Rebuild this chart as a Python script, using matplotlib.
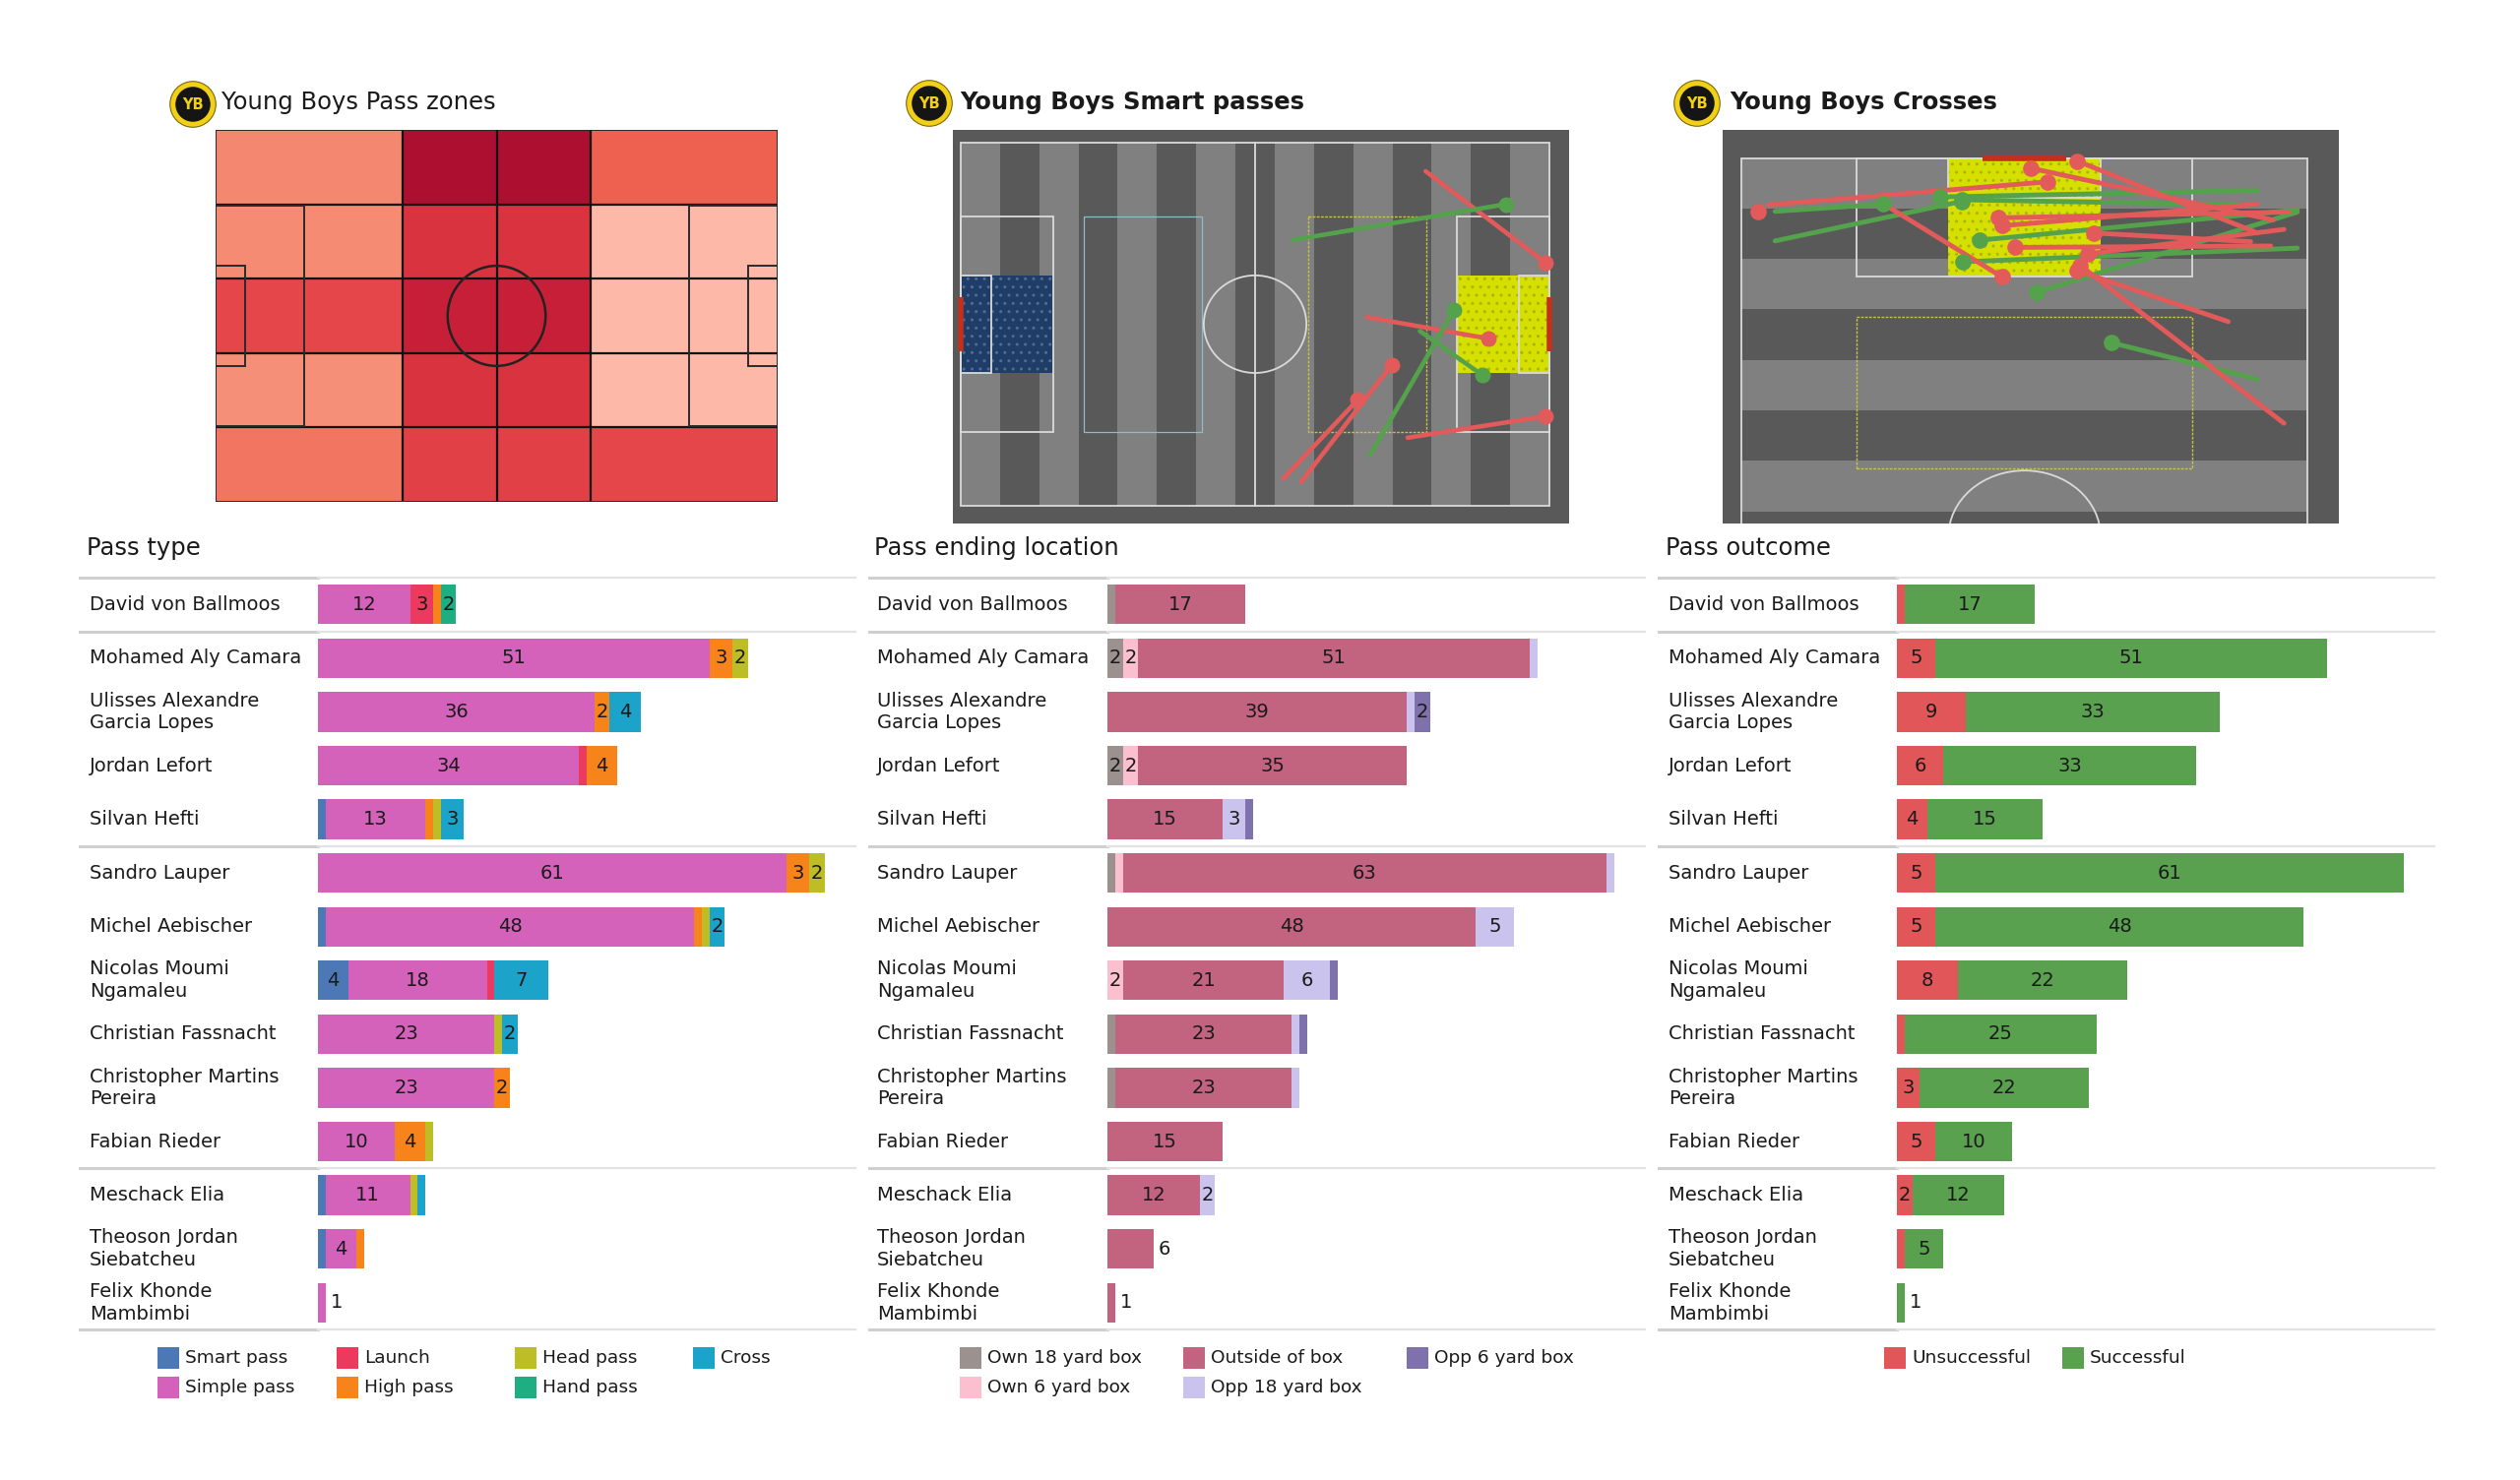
import numpy as np
import matplotlib.pyplot as plt
from matplotlib.patches import Rectangle, Circle
from matplotlib.colors import LinearSegmentedColormap

W, H = 2560, 1504

# ---------------- data ----------------
players = ['David von Ballmoos', 'Mohamed Aly Camara', 'Ulisses Alexandre\nGarcia Lopes',
           'Jordan Lefort', 'Silvan Hefti', 'Sandro Lauper', 'Michel Aebischer',
           'Nicolas Moumi\nNgamaleu', 'Christian Fassnacht', 'Christopher Martins\nPereira',
           'Fabian Rieder', 'Meschack Elia', 'Theoson Jordan\nSiebatcheu', 'Felix Khonde\nMambimbi']

type_labels = ['Smart pass', 'Simple pass', 'Launch', 'High pass', 'Head pass', 'Hand pass', 'Cross']
type_colors = ['#4c78b6', '#d462bb', '#ec3a5e', '#f7841a', '#bdbd26', '#1fae82', '#1ba3c9']
smart = [0, 0, 0, 0, 1, 0, 1, 4, 0, 0, 0, 1, 1, 0]
simple = [12, 51, 36, 34, 13, 61, 48, 18, 23, 23, 10, 11, 4, 1]
launch = [3, 0, 0, 1, 0, 0, 0, 1, 0, 0, 0, 0, 0, 0]
high = [1, 3, 2, 4, 1, 3, 1, 0, 0, 2, 4, 0, 1, 0]
head = [0, 2, 0, 0, 1, 2, 1, 0, 1, 0, 1, 1, 0, 0]
hand = [2, 0, 0, 0, 0, 0, 0, 0, 0, 0, 0, 0, 0, 0]
cross = [0, 0, 4, 0, 3, 0, 2, 7, 2, 0, 0, 1, 0, 0]

end_labels = ['Own 18 yard box', 'Own 6 yard box', 'Outside of box', 'Opp 18 yard box', 'Opp 6 yard box']
end_colors = ['#9b918e', '#fbbfd0', '#c2637f', '#c9c3ee', '#7f72ac']
own18 = [1, 2, 0, 2, 0, 1, 0, 0, 1, 1, 0, 0, 0, 0]
own6 = [0, 2, 0, 2, 0, 1, 0, 2, 0, 0, 0, 0, 0, 0]
outside = [17, 51, 39, 35, 15, 63, 48, 21, 23, 23, 15, 12, 6, 1]
opp18 = [0, 1, 1, 0, 3, 1, 5, 6, 1, 1, 0, 2, 0, 0]
opp6 = [0, 0, 2, 0, 1, 0, 0, 1, 1, 0, 0, 0, 0, 0]

out_labels = ['Unsuccessful', 'Successful']
out_colors = ['#e15759', '#59a14f']
unsucc = [1, 5, 9, 6, 4, 5, 5, 8, 1, 3, 5, 2, 1, 0]
succ = [17, 51, 33, 33, 15, 61, 48, 22, 25, 22, 10, 12, 5, 1]

# pass zones, rows top -> bottom, columns own third -> final third
zone_counts = [[31, 80, 40],
               [30, 60, 20],
               [50, 70, 20],
               [29, 60, 20],
               [35, 53, 50]]

# smart passes (length from own goal, width from top)
sp_x0 = [82.9, 59.2, 72.5, 73.0, 81.9, 57.5, 60.7, 79.7]
sp_y0 = [5.3, 18.2, 32.7, 58.6, 35.3, 63.0, 63.6, 55.3]
sp_x1 = [104.2, 97.2, 94.1, 88.0, 93.1, 70.8, 76.9, 104.2]
sp_y1 = [22.4, 11.5, 36.7, 31.3, 43.6, 48.2, 41.6, 51.3]
sp_ok = [0, 1, 0, 1, 1, 0, 0, 0]

# crosses (width from left, length from own goal)
cr_w0 = [4.0, 4.0, 62.0, 61.3, 66.8, 66.8, 66.8, 62.0,
         62.0, 63.9, 3.2, 65.8, 62.0, 61.2, 63.6, 65.2, 58.5, 17.8, 65.2, 2.0]
cr_l0 = [97.6, 93.5, 100.5, 98.5, 97.8, 92.5, 97.5, 74.3,
         94.6, 96.4, 98.5, 97.5, 98.6, 93.4, 92.8, 95.1, 82.3, 98.1, 68.2, 97.6]
cr_w1 = [17.0, 26.5, 23.9, 26.5, 28.6, 26.6, 35.5, 44.4,
         40.3, 34.7, 36.8, 30.8, 31.3, 42.3, 32.8, 41.6, 40.3, 31.3, 40.7, 2.0]
cr_l1 = [98.6, 99.0, 99.6, 99.2, 93.6, 90.6, 86.4, 79.4,
         104.6, 103.6, 101.7, 96.7, 95.6, 94.6, 92.6, 91.7, 89.4, 88.5, 90.1, 97.6]
cr_ok = [1, 1, 1, 1, 1, 1, 1, 1,
         0, 0, 0, 0, 0, 0, 0, 0, 0, 0, 0, 0]

RED = '#e25a5a'
GREEN = '#55a24d'
TXT = '#1a1a1a'

fig = plt.figure(figsize=(W / 100, H / 100), dpi=100)
fig.patch.set_facecolor('white')


def add_ax(x0, y0, x1, y1):
    return fig.add_axes([x0 / W, 1 - y1 / H, (x1 - x0) / W, (y1 - y0) / H])


def logo(cx, cy, d=48):
    lax = add_ax(cx - d / 2, cy - d / 2, cx + d / 2, cy + d / 2)
    lax.set_xlim(-1, 1)
    lax.set_ylim(-1, 1)
    lax.axis('off')
    lax.add_patch(Circle((0, 0), 0.97, fc='#f2d016', ec='#7a6a10', lw=0.8))
    lax.add_patch(Circle((0, 0), 0.74, fc='#151515'))
    lax.text(0, -0.04, 'YB', color='#f2d016', fontsize=10.5, weight='bold', ha='center', va='center')


def clean(ax):
    ax.set_xticks([])
    ax.set_yticks([])
    for s in ax.spines.values():
        s.set_visible(False)


# ---------------- pass zones ----------------
ax1 = add_ax(219, 132, 790, 510)
cmap = LinearSegmentedColormap.from_list(
    'zones', ['#fdb8a8', '#f58a72', '#ee6050', '#e4464a', '#d93340', '#c81f38', '#ad0f30'])
xe = np.array([0, 35, 70, 105])
ye = np.linspace(0, 68, 6)
ax1.pcolormesh(xe, ye, np.flipud(np.array(zone_counts)), cmap=cmap, vmin=20, vmax=80, zorder=0)
for yy in ye[1:-1]:
    ax1.plot([0, 105], [yy, yy], color='#111111', lw=1.6, zorder=2)
for xx in (35, 70):
    ax1.plot([xx, xx], [0, 68], color='#111111', lw=1.6, zorder=2)
pk = dict(fill=False, ec='#2a2a2a', lw=1.4, zorder=2)
ax1.add_patch(Rectangle((0, 0), 105, 68, **pk))
ax1.add_patch(Rectangle((0, 13.84), 16.5, 40.32, **pk))
ax1.add_patch(Rectangle((88.5, 13.84), 16.5, 40.32, **pk))
ax1.add_patch(Rectangle((0, 24.84), 5.5, 18.32, **pk))
ax1.add_patch(Rectangle((99.5, 24.84), 5.5, 18.32, **pk))
ax1.plot([52.5, 52.5], [0, 68], color='#111111', lw=1.6, zorder=2)
ax1.add_patch(Circle((52.5, 34), 9.15, fill=False, ec='#222222', lw=1.8, zorder=2))
ax1.set_xlim(0, 105)
ax1.set_ylim(0, 68)
clean(ax1)


# ---------------- striped pitches ----------------
LINE = '#dadada'


def stripe_pitch(ax, vertical):
    def rect(l0, w0, dl, dw, **kw):
        if vertical:
            ax.add_patch(Rectangle((w0, l0), dw, dl, **kw))
        else:
            ax.add_patch(Rectangle((l0, w0), dl, dw, **kw))

    def line(ls, ws, **kw):
        if vertical:
            ax.plot(ws, ls, **kw)
        else:
            ax.plot(ls, ws, **kw)

    ax.set_facecolor('#595959')
    for i in range(15):
        rect(7 * i, 0, 7, 68, fc='#808080' if i % 2 == 0 else '#595959', lw=0, zorder=0)
    rect(0, 24.84, 16.5, 18.32, fc='#1f3d66', ec='#4d6d98', hatch='..', lw=0, zorder=1)
    rect(88.5, 24.84, 16.5, 18.32, fc='#d6e000', ec='#aab500', hatch='..', lw=0, zorder=1)
    rect(22, 13.84, 21, 40.32, fill=False, ec='#8fbcc8', lw=0.9, zorder=2)
    rect(62, 13.84, 21, 40.32, fill=False, ec='#c9c244', lw=1.0, ls=(0, (2, 1)), zorder=2)
    kw = dict(fill=False, ec=LINE, lw=1.3, zorder=2)
    rect(0, 0, 105, 68, **kw)
    rect(0, 13.84, 16.5, 40.32, **kw)
    rect(88.5, 13.84, 16.5, 40.32, **kw)
    rect(0, 24.84, 5.5, 18.32, **kw)
    rect(99.5, 24.84, 5.5, 18.32, **kw)
    line([52.5, 52.5], [0, 68], color=LINE, lw=1.3, zorder=2)
    c = (34, 52.5) if vertical else (52.5, 34)
    ax.add_patch(Circle(c, 9.15, fill=False, ec=LINE, lw=1.3, zorder=2))
    for gl in (0, 105):
        line([gl, gl], [29, 39], color='#c4301c', lw=4, solid_capstyle='butt', zorder=3)
    clean(ax)


def draw_passes(ax, x0, y0, x1, y1, ok, lw, ms):
    for a, b, c, d, o in zip(x0, y0, x1, y1, ok):
        col = GREEN if o else RED
        ax.plot([a, c], [b, d], color=col, lw=lw, solid_capstyle='round', zorder=4)
    for c, d, o in zip(x1, y1, ok):
        ax.plot(c, d, 'o', color=GREEN if o else RED, ms=ms, mew=0, zorder=5)


ax2 = add_ax(968, 132, 1594, 532)
stripe_pitch(ax2, vertical=False)
draw_passes(ax2, sp_x0, sp_y0, sp_x1, sp_y1, sp_ok, 3.3, 11.5)
ax2.set_xlim(-1.4, 108.5)
ax2.set_ylim(71.4, -2.45)

ax3 = add_ax(1750, 132, 2376, 532)
stripe_pitch(ax3, vertical=True)
draw_passes(ax3, cr_w0, cr_l0, cr_w1, cr_l1, cr_ok, 3.5, 12)
ax3.set_xlim(-2.3, 71.8)
ax3.set_ylim(54.3, 108.9)

# titles + logos
logo(196, 106)
fig.text(225 / W, 1 - 104 / H, 'Young Boys Pass zones', fontsize=17.5, color=TXT, va='center')
logo(944, 105)
fig.text(975 / W, 1 - 104 / H, 'Young Boys Smart passes', fontsize=17.5, weight='bold', color=TXT, va='center')
logo(1724, 105)
fig.text(1757 / W, 1 - 104 / H, 'Young Boys Crosses', fontsize=17.5, weight='bold', color=TXT, va='center')


# ---------------- bar panels ----------------
def bar_panel(line_x0, name_x, bx0, bx1, title, series, colors):
    ax = add_ax(bx0, 587, bx1, 1351)
    span = bx1 - bx0
    n = len(players)
    y = np.arange(n)
    left = np.zeros(n)
    arr = [np.array(s) for s in series]
    nseg = sum((a > 0).astype(int) for a in arr)
    for vals, c in zip(arr, colors):
        ax.barh(y, vals, left=left, height=0.74, color=c, lw=0)
        for i, v in enumerate(vals):
            if v == 0:
                continue
            if nseg[i] == 1 and v < 7:
                ax.text(left[i] + v + 0.6, i, str(v), ha='left', va='center', fontsize=14, color=TXT)
            elif v >= 2:
                ax.text(left[i] + v / 2, i, str(v), ha='center', va='center', fontsize=14, color=TXT)
        left += vals
    ax.set_xlim(0, 70)
    ax.set_ylim(13.5, -0.5)
    ax.axis('off')
    tr = ax.get_yaxis_transform()
    lx = (line_x0 - bx0) / span
    for yy in (-0.5, 0.5, 4.5, 10.5, 13.5):
        ax.plot([lx, 0], [yy, yy], color='#cfcfcf', lw=2.2, transform=tr, clip_on=False)
        ax.plot([0, 1], [yy, yy], color='#e3e3e3', lw=1.6, transform=tr, clip_on=False)
    nx = (name_x - bx0) / span
    for i, name in enumerate(players):
        ax.text(nx, i, name, transform=tr, ha='left', va='center', fontsize=14,
                color=TXT, linespacing=1.25)
    ax.text((name_x - 3 - bx0) / span, 1 + 30 / 764, title, transform=ax.transAxes,
            ha='left', va='center', fontsize=17.5, color=TXT)
    return ax


bar_panel(81, 91, 323, 869, 'Pass type',
          [smart, simple, launch, high, head, hand, cross], type_colors)
bar_panel(883, 891, 1125, 1671, 'Pass ending location',
          [own18, own6, outside, opp18, opp6], end_colors)
bar_panel(1685, 1695, 1927, 2473, 'Pass outcome',
          [unsucc, succ], out_colors)


# ---------------- legends ----------------
def legend(xs, labels, colors, nrows=2, ys=(1380, 1410)):
    for k, (lab, c) in enumerate(zip(labels, colors)):
        col, row = divmod(k, nrows)
        x, yc = xs[col], ys[row]
        fig.add_artist(Rectangle((x / W, 1 - (yc + 11) / H), 22 / W, 22 / H,
                                 transform=fig.transFigure, fc=c, lw=0))
        fig.text((x + 28) / W, 1 - yc / H, lab, fontsize=13.3, color=TXT, va='center', ha='left')


legend([160, 342, 523, 704], type_labels, type_colors)
legend([975, 1202, 1429], end_labels, end_colors)
legend([1914, 2095], out_labels, out_colors, nrows=1)

fig.savefig('out.png', dpi=100, facecolor='white')
